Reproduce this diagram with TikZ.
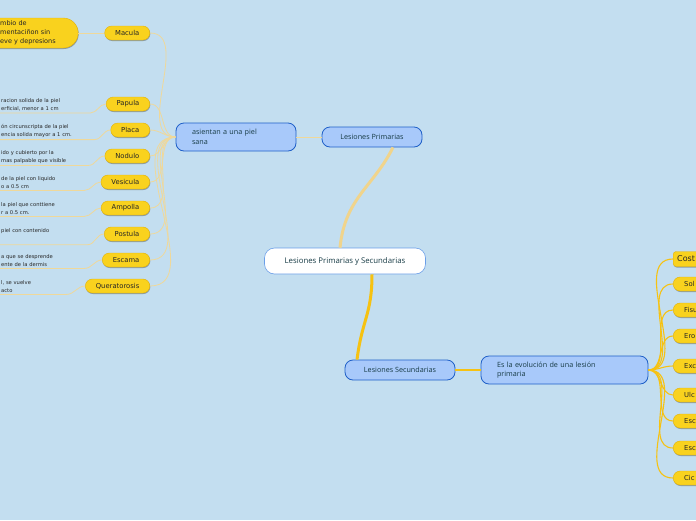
\documentclass[tikz,border=0pt]{standalone}
\usepackage{fontspec}
\setmainfont{Open Sans}
\newfontfamily\dejavu{DejaVu Sans}
\usetikzlibrary{shadows}
\definecolor{bgblue}{HTML}{C3DEF0}
\definecolor{leafyel}{HTML}{F9D21E}
\definecolor{leafedge}{HTML}{E3B20A}
\definecolor{topicblue}{HTML}{A8C9FA}
\definecolor{topicedge}{HTML}{1E5FC8}
\definecolor{centeredge}{HTML}{6A9EE8}
\definecolor{inktext}{HTML}{173B45}
\definecolor{palelink}{HTML}{EFD89A}
\definecolor{beigelink}{HTML}{F0D48C}
\definecolor{goldlink}{HTML}{F6C212}
\begin{document}
\begin{tikzpicture}[x=1pt,y=-1pt,
  topic/.style={draw=topicedge, fill=topicblue, line width=0.8pt, rounded corners=8pt, text=inktext, font=\fontsize{7.2}{9.5}\selectfont},
  leaf/.style={draw=leafedge, fill=leafyel, line width=0.4pt, rounded corners=7pt, minimum height=14pt, inner xsep=10.5pt, inner ysep=0pt, text=black!85, font=\dejavu\fontsize{6.8}{8}\selectfont, drop shadow={shadow xshift=0.5pt, shadow yshift=-1pt, opacity=0.3, fill=black}},
  rleaf/.style={leaf, anchor=west, text width=40pt, align=left, inner xsep=11pt},
  costleaf/.style={rleaf, rounded corners=3pt, inner xsep=4pt, minimum height=15pt, font=\dejavu\fontsize{8}{9}\selectfont},
  note/.style={anchor=north west, align=left, inner xsep=1pt, inner ysep=2pt, text=black!85, font=\dejavu\fontsize{5.2}{8}\selectfont},
  plink/.style={draw=palelink, line width=0.8pt},
  glink/.style={draw=goldlink, line width=1.1pt}]
\useasboundingbox (0,0) rectangle (696,520);
\fill[bgblue] (0,0) rectangle (696,520);
\clip (0,0) rectangle (696,520);

% main topics
\node[draw=centeredge, fill=white, line width=0.6pt, rounded corners=10pt, minimum width=161pt, minimum height=26pt, text=inktext, font=\fontsize{7.8}{9}\selectfont] (central) at (345,261) {Lesiones Primarias y Secundarias};
\node[topic, minimum width=100pt, minimum height=20pt] (prim) at (372,137) {Lesiones Primarias};
\node[topic, minimum width=110pt, minimum height=20pt] (sec) at (400,370) {Lesiones Secundarias};
\node[topic, text width=88pt, inner xsep=16pt, minimum height=28pt, align=left] (asient) at (236,137) {asientan a una piel\\sana};
\node[topic, text width=135pt, inner xsep=16pt, minimum height=28pt, align=left] (evol) at (564.5,370) {Es la evolución de una lesión\\primaria};

\draw[draw=beigelink, line width=3pt] ([xshift=-5pt]central.north) .. controls +(5,-50) and +(-20,40) .. ([xshift=21pt]prim.south);
\draw[draw=goldlink, line width=3pt] ([xshift=27pt]central.south) .. controls +(0,40) and +(5,-40) .. ([xshift=-43pt]sec.north);
\draw[plink] (prim.west) -- (asient.east);
\draw[glink] (sec.east) -- (evol.west);

% primary lesions
\node[leaf, anchor=east] (macula) at (150,33) {Macula};
\node[leaf, anchor=east] (papula) at (150,104) {Papula};
\node[leaf, anchor=east] (placa) at (150,130) {Placa};
\node[leaf, anchor=east] (nodulo) at (150,156) {Nodulo};
\node[leaf, anchor=east] (vesicula) at (150,182) {Vesicula};
\node[leaf, anchor=east] (ampolla) at (150,208) {Ampolla};
\node[leaf, anchor=east] (postula) at (150,234) {Postula};
\node[leaf, anchor=east] (escama) at (150,260) {Escama};
\node[leaf, anchor=east] (querat) at (150,286) {Queratorosis};

\node[leaf, anchor=west, rounded corners=15pt, minimum height=30pt, text width=58pt, inner xsep=20pt, align=left, font=\dejavu\fontsize{6.5}{9}\selectfont] (macN) at (-20,33) {mbio de\\mentaciñon sin\\eve y depresions};
\node[note, text width=88pt] (papN) at (0,96) {racion solida de la piel\\erficial, menor a 1 cm};
\node[note, text width=92pt] (plaN) at (0,122) {ón circunscripta de la piel\\encia solida mayor a 1 cm.};
\node[note, text width=86pt] (nodN) at (0,148) {ido y cubierto por la\\mas palpable que visible};
\node[note, text width=82pt] (vesN) at (0,174) {de la piel con liquido\\o a 0.5 cm};
\node[note, text width=82pt] (ampN) at (0,200) {la piel que conttiene\\r a 0.5 cm.};
\node[note, text width=85pt] (posN) at (0,226) {piel con contenido\\\strut};
\node[note, text width=82pt] (escN) at (0,252) {a que se desprende\\ente de la dermis};
\node[note, text width=64pt] (queN) at (0,278) {l, se vuelve\\acto};

\draw[plink] (macN.east) -- (macula.west);
\draw[plink] (papN.south west) -- (papN.south east) to[out=0,in=180] (papula.west);
\draw[plink] (plaN.south west) -- (plaN.south east) to[out=0,in=180] (placa.west);
\draw[plink] (nodN.south west) -- (nodN.south east) to[out=0,in=180] (nodulo.west);
\draw[plink] (vesN.south west) -- (vesN.south east) to[out=0,in=180] (vesicula.west);
\draw[plink] (ampN.south west) -- (ampN.south east) to[out=0,in=180] (ampolla.west);
\draw[plink] (posN.south west) -- (posN.south east) to[out=0,in=180] (postula.west);
\draw[plink] (escN.south west) -- (escN.south east) to[out=0,in=180] (escama.west);
\draw[plink] (queN.south west) -- (queN.south east) to[out=0,in=180] (querat.west);

\draw[plink] (macula.east) to[out=0,in=180] (asient.west);
\draw[plink] (papula.east) to[out=0,in=180] (asient.west);
\draw[plink] (placa.east) to[out=0,in=180] (asient.west);
\draw[plink] (nodulo.east) to[out=0,in=180] (asient.west);
\draw[plink] (vesicula.east) to[out=0,in=180] (asient.west);
\draw[plink] (ampolla.east) to[out=0,in=180] (asient.west);
\draw[plink] (postula.east) to[out=0,in=180] (asient.west);
\draw[plink] (escama.east) to[out=0,in=180] (asient.west);
\draw[plink] (querat.east) to[out=0,in=180] (asient.west);

% secondary lesions
\node[costleaf] (cost) at (673,259) {Cost};
\node[rleaf] (sol) at (673,284) {Sol};
\node[rleaf] (fisu) at (673,310) {Fisu};
\node[rleaf] (ero) at (673,336) {Ero};
\node[rleaf] (exc) at (673,366) {Exc};
\node[rleaf] (ulc) at (673,395) {Ulc};
\node[rleaf] (escA) at (673,421) {Esc};
\node[rleaf] (escB) at (673,448) {Esc};
\node[rleaf] (cic) at (673,478) {Cic};

\draw[glink] (evol.east) to[out=0,in=180] (cost.west);
\draw[glink] (evol.east) to[out=0,in=180] (sol.west);
\draw[glink] (evol.east) to[out=0,in=180] (fisu.west);
\draw[glink] (evol.east) to[out=0,in=180] (ero.west);
\draw[glink] (evol.east) to[out=0,in=180] (exc.west);
\draw[glink] (evol.east) to[out=0,in=180] (ulc.west);
\draw[glink] (evol.east) to[out=0,in=180] (escA.west);
\draw[glink] (evol.east) to[out=0,in=180] (escB.west);
\draw[glink] (evol.east) to[out=0,in=180] (cic.west);
\end{tikzpicture}
\end{document}
